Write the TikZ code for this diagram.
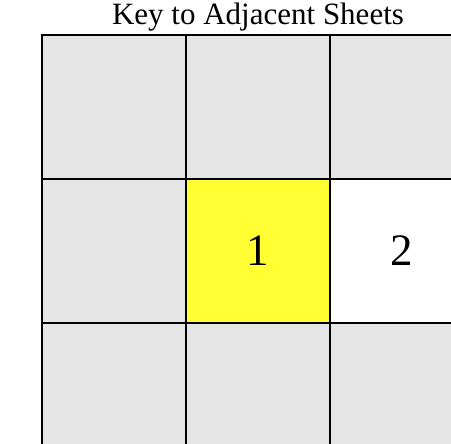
\documentclass[tikz,border=0pt]{standalone}
\usepackage{fontspec}
\setmainfont{Liberation Serif}
\definecolor{cellgray}{HTML}{E5E5E5}
\definecolor{cellyellow}{HTML}{FFFF33}
\begin{document}
\begin{tikzpicture}[x=1pt,y=-1pt,
  cell/.style={draw=black,line width=1.8pt,minimum width=144pt,minimum height=144pt,inner sep=0pt,outer sep=0pt,anchor=north west,font=\fontsize{45}{45}\selectfont},
  title/.style={font=\fontsize{31}{31}\selectfont,inner sep=0pt,anchor=base}]
\useasboundingbox (0,0) rectangle (451,444);
\begin{scope}
\clip (0,0) rectangle (451,444);
\node[cell,fill=cellgray] (c11) at (42,35) {};
\node[cell,fill=cellgray] (c12) at (186,35) {};
\node[cell,fill=cellgray] (c13) at (330,35) {};
\node[cell,fill=cellgray] (c21) at (42,179) {};
\node[cell,fill=cellyellow] (c22) at (186,179) {1};
\node[cell,fill=white] (c23) at (330,179) {};
\node[cell,fill=cellgray] (c31) at (42,323) {};
\node[cell,fill=cellgray] (c32) at (186,323) {};
\node[cell,fill=cellgray] (c33) at (330,323) {};
\node[font=\fontsize{45}{45}\selectfont] (n2) at (402,251) {2};
\end{scope}
\node[title] (t) at (258,25) {Key to Adjacent Sheets};
\end{tikzpicture}
\end{document}
